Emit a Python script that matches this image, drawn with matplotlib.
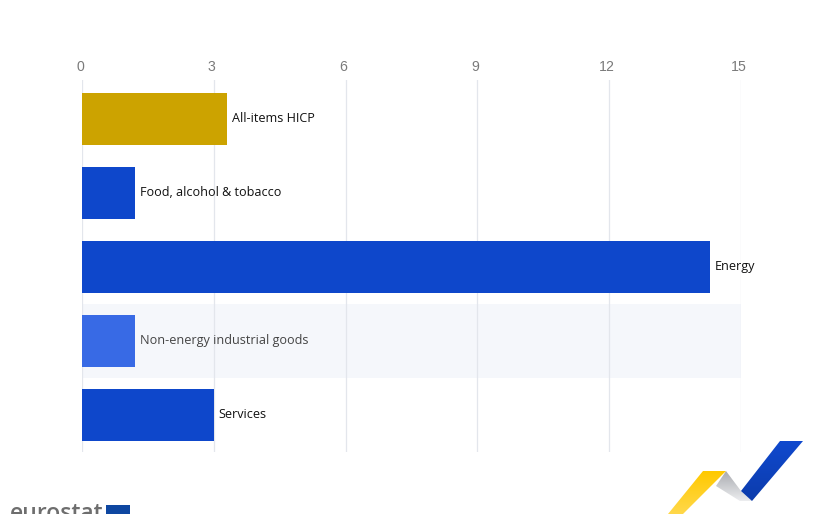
import matplotlib
matplotlib.use("Agg")
import matplotlib.pyplot as plt
from matplotlib.patches import Polygon, Rectangle
from matplotlib.colors import LinearSegmentedColormap
from matplotlib.transforms import ScaledTranslation
import numpy as np

categories = ["All-items HICP", "Food, alcohol & tobacco", "Energy", "Non-energy industrial goods", "Services"]
values = [3.3, 1.2, 14.3, 1.2, 3.0]
colors = ["#CCA300", "#0E47CB", "#0E47CB", "#386AE5", "#0E47CB"]
label_colors = ["#111111", "#111111", "#111111", "#444444", "#111111"]
ticks = [0, 3, 6, 9, 12, 15]

W, H = 823, 514
plt.rcParams['font.family'] = ['Open Sans', 'DejaVu Sans']
fig = plt.figure(figsize=(W/100, H/100), dpi=100)
X0, X1 = 82, 741
Y0, Y1 = 80, 452
ax = fig.add_axes([X0/W, 1-Y1/H, (X1-X0)/W, (Y1-Y0)/H])
ax.set_xlim(0, 15)
ax.set_ylim(len(categories)-0.5, -0.5-2/74)
for s in ax.spines.values():
    s.set_visible(False)
ax.set_yticks([])
ax.set_xticks(ticks)
ax.xaxis.tick_top()
ax.tick_params(axis='x', length=0, pad=4, labelsize=10.2, labelcolor="#7A7A7A")
shift = ScaledTranslation(-2/100, 0, fig.dpi_scale_trans)
for lab in ax.get_xticklabels():
    lab.set_fontfamily(['Liberation Sans', 'DejaVu Sans'])
    lab.set_transform(lab.get_transform() + shift)
ax.set_axisbelow(True)
ax.grid(axis='x', color="#E3E6EC", lw=0.9)
ax.axhspan(2.5, 3.5, color="#F5F7FB", lw=0, zorder=0.5)
ax.barh(range(len(values)), values, height=0.70, color=colors, zorder=3)
for i, (c, v) in enumerate(zip(categories, values)):
    ax.text(v + 0.11, i - 0.01, c, va='center', ha='left', fontsize=9.1, color=label_colors[i], zorder=4)

# logo ribbon and eurostat wordmark, in pixel coordinates
bg = fig.add_axes([0, 0, 1, 1], zorder=5)
bg.patch.set_alpha(0)
bg.axis('off')

def ribbon(points, c_top, c_bottom):
    pts = np.array(points, dtype=float)
    xmin, xmax = pts[:, 0].min(), pts[:, 0].max()
    ymin, ymax = pts[:, 1].min(), pts[:, 1].max()
    cmap = LinearSegmentedColormap.from_list("r", [c_top, c_bottom])
    im = bg.imshow(np.linspace(0, 1, 64).reshape(-1, 1), cmap=cmap, aspect='auto',
                   extent=(xmin, xmax, ymax, ymin), zorder=2)
    poly = Polygon(pts, closed=True, transform=bg.transData, fc='none', ec='none')
    bg.add_patch(poly)
    im.set_clip_path(poly)

ribbon([(726, 471), (741, 491), (752, 501), (740, 501), (716, 486)], "#A9ABB0", "#ECEDEF")
ribbon([(780, 441), (803, 441), (752, 501), (741, 491)], "#1049CE", "#0C3CAC")
ribbon([(703, 471), (726, 471), (683, 514), (668, 514)], "#FFC900", "#FFD84A")
bg.add_patch(Rectangle((106, 505), 24, 9, color="#0E47A1", lw=0))
bg.text(10, 502.5, "eurostat", fontsize=16.5, fontweight='semibold', color="#6E6E6E",
        va='top', ha='left', clip_on=True)
bg.set_xlim(0, W)
bg.set_ylim(H, 0)
fig.savefig("out.png", dpi=100)
